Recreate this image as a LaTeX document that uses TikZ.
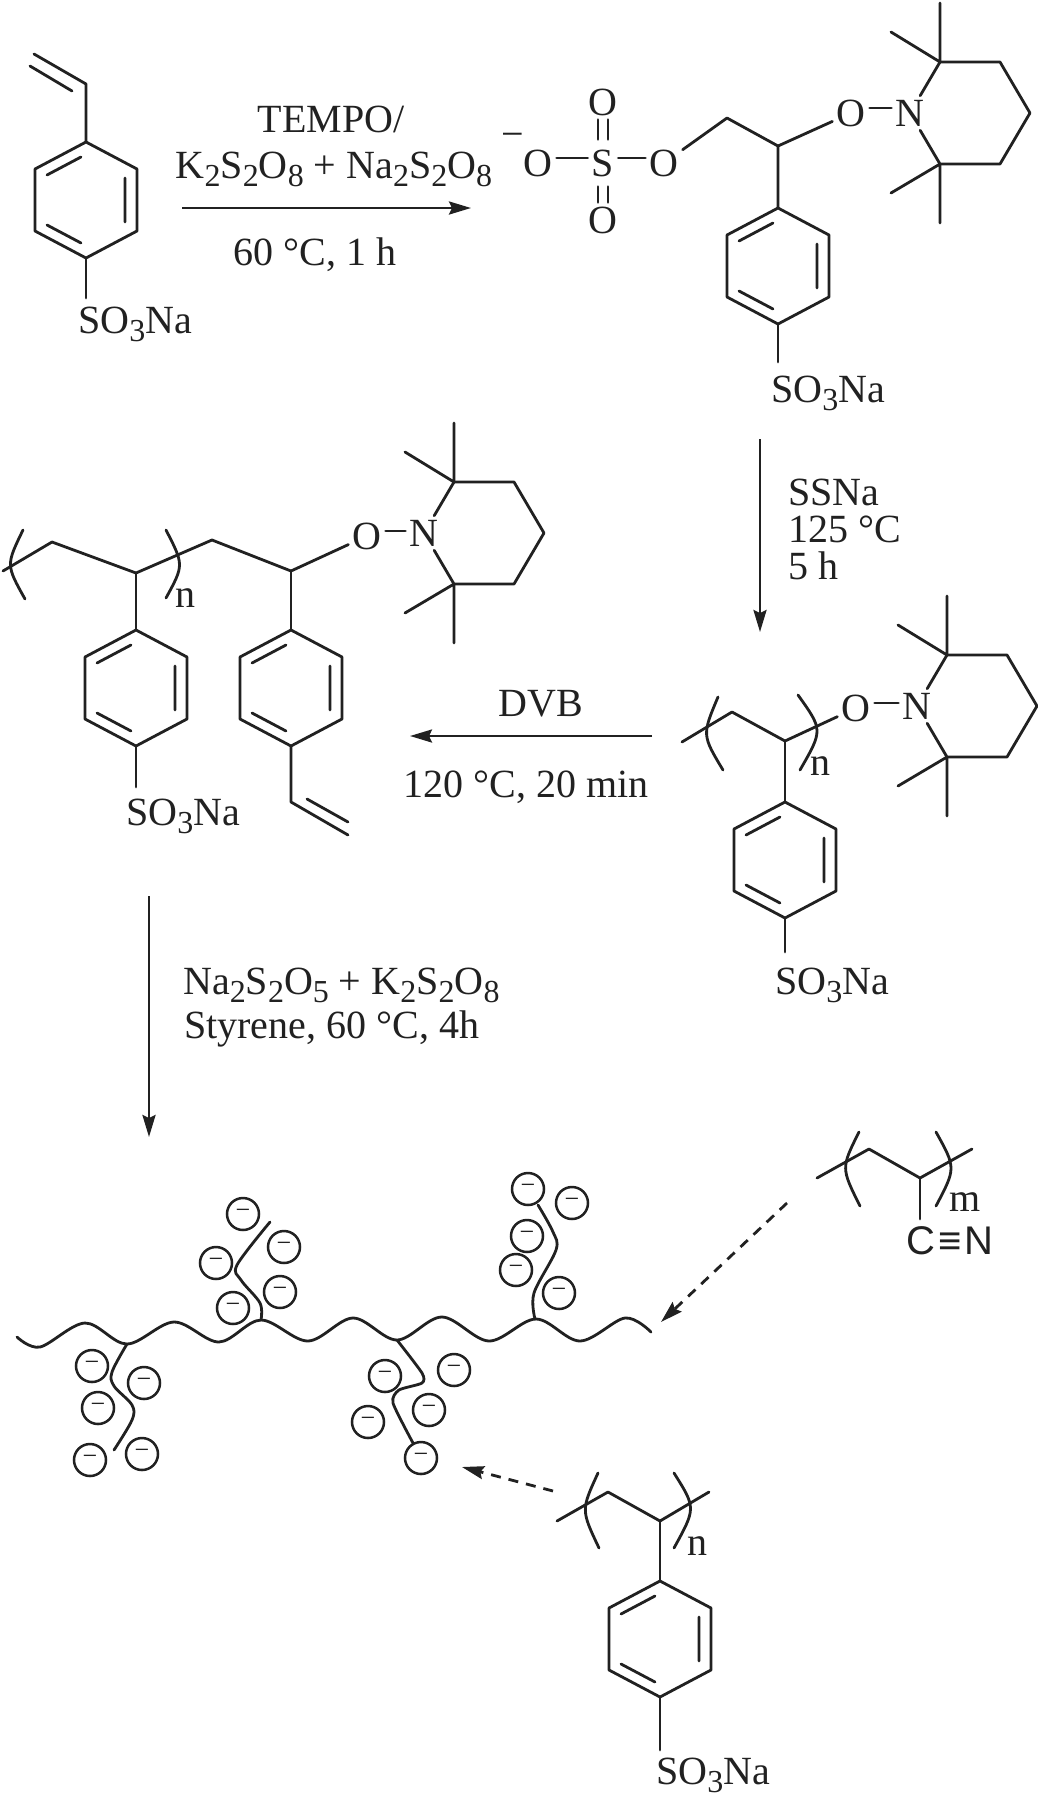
\documentclass[tikz,border=0pt]{standalone}
\usepackage{fontspec}
\setmainfont{Liberation Serif}
\newfontfamily\cnfont{Liberation Sans}
\usetikzlibrary{arrows.meta}
\newcommand{\lowsub}[1]{\raisebox{-0.2em}[0pt][0pt]{\fontsize{32}{32}\selectfont #1}}
\newcommand{\sulfo}{SO\lowsub{3}Na}
\definecolor{ink}{gray}{0.13}
\tikzset{
  bond/.style={draw=ink,line width=2.8pt,line cap=round,line join=round},
  rxn/.style={draw=ink,line width=2.8pt,-{Stealth[length=22pt,width=13pt,inset=3pt]}},
  dashrxn/.style={draw=ink,line width=2.8pt,dash pattern=on 10pt off 8pt,-{Stealth[length=22pt,width=13pt,inset=3pt]}},
  lbl/.style={text=ink,inner sep=0pt,anchor=base west,font=\fontsize{40}{44}\selectfont},
  lblc/.style={text=ink,inner sep=0pt,anchor=base,font=\fontsize{40}{44}\selectfont},
  atom/.style={text=ink,inner sep=4pt,font=\fontsize{40}{44}\selectfont},
  chg/.style={draw=ink,line width=2.5pt,circle,minimum size=32pt,inner sep=0pt,text=ink,font=\fontsize{26}{26}\selectfont}
}
% aromatic ring, top vertex at (#1,#2)
\newcommand{\ArRing}[2]{%
  \begin{scope}[shift={(#1,#2)}]
    \draw[bond] (0,0)--(51,27)--(51,89)--(0,116)--(-51,89)--(-51,27)--cycle;
    \draw[bond] (-39,33)--(-5,15) (39,36)--(39,80) (-39,83)--(-5,101);
  \end{scope}}
% tetramethylpiperidine ring on a nitrogen node: name, x, y
\newcommand{\TempoRing}[3]{%
  \node[atom] (#1) at (#2,#3) {N};
  \begin{scope}[shift={(#2,#3)}]
    \coordinate (#1a) at (30,-51);
    \coordinate (#1b) at (90,-51);
    \coordinate (#1c) at (120,0);
    \coordinate (#1d) at (90,51);
    \coordinate (#1e) at (30,51);
    \draw[bond] (#1) -- (#1a) -- (#1b) -- (#1c) -- (#1d) -- (#1e) -- (#1);
    \draw[bond] (#1a) -- (30,-110) (#1a) -- (-19,-81) (#1e) -- (30,110) (#1e) -- (-19,80);
  \end{scope}}
\begin{document}
\begin{tikzpicture}[x=1pt,y=-1pt]
\useasboundingbox (0,0) rectangle (1038,1800);
\fill[white] (0,0) rectangle (1038,1800);

% ---------- styrene sulfonate
\ArRing{86}{142}
\draw[bond] (86,142)--(86,84)--(34,54);
\draw[bond] (72,91)--(30,66);
\node[lbl] (ssa) at (78,333) {\sulfo};
\draw[bond] (86,258)--(86,298);

% ---------- arrow 1
\coordinate (a1s) at (182,208);
\coordinate (a1e) at (471,208);
\draw[rxn] (a1s)--(a1e);
\node[lblc] (t1) at (331,132) {TEMPO/};
\node[lblc] (t2) at (334,178) {K\lowsub{2}S\lowsub{2}O\lowsub{8} + Na\lowsub{2}S\lowsub{2}O\lowsub{8}};
\node[lblc] (t3) at (315,265) {60 °C, 1 h};

% ---------- initiator adduct
\node[atom] (minus1) at (513,140) {−};
\node[atom] (oa) at (538,163) {O};
\node[atom] (sa) at (603,163) {S};
\node[atom] (ob) at (664,163) {O};
\node[atom] (oc) at (603,102) {O};
\node[atom] (od) at (603,220) {O};
\draw[bond] ([yshift=5pt]oa.east)--([yshift=5pt]oa.east -| sa.west);
\draw[bond] ([yshift=5pt]sa.east)--([yshift=5pt]sa.east -| ob.west);
\draw[bond,shorten >=6pt] ([xshift=-5pt]oc.south)--([xshift=-5pt]sa.north);
\draw[bond,shorten >=6pt] ([xshift=5pt]oc.south)--([xshift=5pt]sa.north);
\draw[bond,shorten >=6pt] ([xshift=-5pt]od.north)--([xshift=-5pt]sa.south);
\draw[bond,shorten >=6pt] ([xshift=5pt]od.north)--([xshift=5pt]sa.south);
\coordinate (ca) at (727,118);
\coordinate (cb) at (778,146);
\draw[bond] (ob)--(ca)--(cb)--(778,208);
\node[atom] (oe) at (851,113) {O};
\draw[bond] (cb)--(oe);
\TempoRing{na}{910}{113}
\draw[bond] ([yshift=5pt]oe.east)--([yshift=5pt]oe.east -| na.west);
\ArRing{778}{208}
\draw[bond] (778,324)--(778,362);
\node[lbl] (ssb) at (771,402) {\sulfo};

% ---------- arrow 2
\coordinate (a2s) at (760,439);
\coordinate (a2e) at (760,632);
\draw[rxn] (a2s)--(a2e);
\node[lbl] (t4) at (788,505) {SSNa};
\node[lbl] (t5) at (788,542) {125 °C};
\node[lbl] (t6) at (788,579) {5 h};

% ---------- PSSNa-TEMPO, right
\node[atom] (of) at (856,708) {O};
\TempoRing{nb}{917}{706}
\draw[bond] ([yshift=5pt]of.east)--([yshift=5pt]of.east -| nb.west);
\coordinate (cc) at (785,741);
\draw[bond] (682,742)--(732,712)--(cc)--(of);
\draw[bond] (cc)--(785,802);
\draw[bond] (718,697) .. controls (702,735) .. (723,770);
\draw[bond] (798,695) .. controls (823,730) .. (800,770);
\node[lbl] (nc) at (810,775) {n};
\ArRing{785}{802}
\draw[bond] (785,918)--(785,952);
\node[lbl] (ssc) at (775,994) {\sulfo};

% ---------- arrow 3
\coordinate (a3s) at (652,736);
\coordinate (a3e) at (410,736);
\draw[rxn] (a3s)--(a3e);
\node[lblc] (t7) at (541,716) {DVB};
\node[lblc] (t8) at (526,797) {120 °C, 20 min};

% ---------- PSSNa-DVB-TEMPO, left
\node[atom] (og) at (367,536) {O};
\TempoRing{nc2}{424}{533}
\draw[bond] ([yshift=5pt]og.east)--([yshift=5pt]og.east -| nc2.west);
\coordinate (cd) at (136,573);
\coordinate (ce) at (291,571);
\draw[bond] (3,571)--(52,542)--(cd)--(212,540)--(ce)--(og);
\draw[bond] (cd)--(136,630) (ce)--(291,630);
\draw[bond] (23,530) .. controls (6,565) .. (25,599);
\draw[bond] (166,530) .. controls (184,565) .. (166,598);
\node[lbl] (nd) at (175,607) {n};
\ArRing{136}{630}
\ArRing{291}{630}
\draw[bond] (136,746)--(136,787);
\node[lbl] (ssd) at (126,825) {\sulfo};
\draw[bond] (291,746)--(291,802)--(348,835);
\draw[bond] (307,799)--(348,822);

% ---------- arrow 4
\coordinate (a4s) at (149,896);
\coordinate (a4e) at (149,1137);
\draw[rxn] (a4s)--(a4e);
\node[lbl] (t9) at (183,994) {Na\lowsub{2}S\lowsub{2}O\lowsub{5} + K\lowsub{2}S\lowsub{2}O\lowsub{8}};
\node[lbl] (t10) at (184,1038) {Styrene, 60 °C, 4h};

% ---------- brush: backbone and side chains
\draw[bond] plot[smooth,tension=.55] coordinates {(17,1337)(40,1347)(85,1323)(127,1344)(174,1322)(219,1342)(261,1320)(308,1341)(353,1318)(397,1340)(442,1317)(489,1341)(536,1319)(580,1341)(625,1318)(651,1332)};
\draw[bond] plot[smooth,tension=.55] coordinates {(127,1344)(112,1372)(114,1386)(132,1405)(132,1420)(114,1450)};
\draw[bond] plot[smooth,tension=.55] coordinates {(261,1320)(260,1303)(241,1280)(237,1265)(270,1222)};
\draw[bond] plot[smooth,tension=.4] coordinates {(397,1340)(422,1373)(422,1383)(399,1390)(393,1403)(413,1443)};
\draw[bond] plot[smooth,tension=.55] coordinates {(535,1319)(534,1293)(556,1250)(553,1232)(538,1205)};
\foreach \nm/\px/\py in {
  ca/92/1366,cb/144/1383,cc/98/1408,cd/90/1460,ce/142/1454,
  cf/243/1214,cg/284/1247,ch/216/1263,ci/280/1292,cj/233/1308,
  ck/528/1189,cl/572/1203,cm/527/1236,cn/516/1270,co/559/1293,
  cp/385/1376,cq/454/1370,cr/429/1410,cs/368/1422,ct/421/1458}
  {\node[chg] (chg\nm) at (\px,\py) {−};}

% ---------- PAN
\coordinate (pa) at (817,1178);
\coordinate (pb) at (869,1149);
\coordinate (pc) at (920,1178);
\coordinate (pd) at (972,1149);
\draw[bond] (pa)--(pb)--(pc)--(pd);
\draw[bond] (859,1132) .. controls (841,1168) .. (860,1206);
\draw[bond] (936,1132) .. controls (956,1168) .. (936,1206);
\node[lbl] (nm) at (949,1211) {m};
\node[lbl,font=\cnfont\fontsize{40}{44}\selectfont] (cn) at (906,1254) {C\kern3pt≡\kern3pt N};
\draw[bond] (pc)--(920,1219);
\coordinate (d1s) at (787,1203);
\coordinate (d1e) at (661,1322);
\draw[dashrxn] (d1s)--(d1e);

% ---------- PSSNa, bottom
\coordinate (qa) at (557,1521);
\coordinate (qb) at (608,1492);
\coordinate (qc) at (660,1521);
\coordinate (qd) at (709,1492);
\draw[bond] (qa)--(qb)--(qc)--(qd);
\draw[bond] (qc)--(660,1581);
\draw[bond] (598,1473) .. controls (581,1510) .. (599,1548);
\draw[bond] (674,1473) .. controls (696,1508) .. (674,1548);
\node[lbl] (ne) at (687,1555) {n};
\ArRing{660}{1581}
\draw[bond] (660,1697)--(660,1750);
\node[lbl] (sse) at (656,1784) {\sulfo};
\coordinate (d2s) at (553,1491);
\coordinate (d2e) at (462,1467);
\draw[dashrxn] (d2s)--(d2e);
\end{tikzpicture}
\end{document}
